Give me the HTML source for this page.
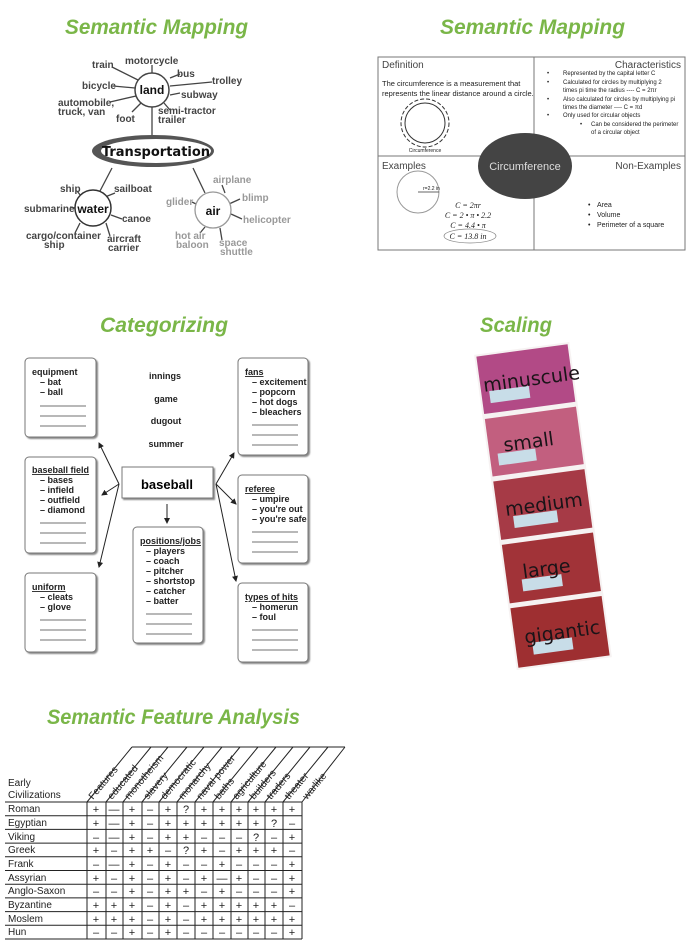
<!DOCTYPE html>
<html><head><meta charset="utf-8"><style>
html,body{margin:0;padding:0;background:#fff;width:695px;height:947px;overflow:hidden}
svg{position:absolute;left:0;top:0}
.t{font-family:"Liberation Sans",sans-serif;font-style:italic;font-weight:bold;fill:#7ab648;font-size:21px}
.g{font-family:"Liberation Sans",sans-serif;font-weight:bold;font-size:10px;fill:#444}
.c{font-family:"Liberation Sans",sans-serif;font-weight:bold;font-size:9px;fill:#222}
.s{font-family:"Liberation Sans",sans-serif;font-size:7px;fill:#222}
.h{font-family:"Liberation Sans",sans-serif;font-size:10px;fill:#222}
</style></head><body>
<svg width="695" height="947" viewBox="0 0 695 947">
<text class="t" x="65" y="34" textLength="183" lengthAdjust="spacingAndGlyphs">Semantic Mapping</text>
<text class="t" x="440" y="34" textLength="185" lengthAdjust="spacingAndGlyphs">Semantic Mapping</text>
<text class="t" x="100" y="332" textLength="128" lengthAdjust="spacingAndGlyphs">Categorizing</text>
<text class="t" x="480" y="332" textLength="72" lengthAdjust="spacingAndGlyphs">Scaling</text>
<text class="t" x="47" y="724" textLength="253" lengthAdjust="spacingAndGlyphs">Semantic Feature Analysis</text>

<!-- transportation -->
<g stroke="#444" stroke-width="1.3" fill="none">
<line x1="152" y1="107" x2="152" y2="136"/>
<line x1="112" y1="168" x2="100" y2="191"/>
<line x1="193" y1="168" x2="205" y2="193"/>
<line x1="112" y1="67" x2="138" y2="80"/><line x1="152" y1="65" x2="152" y2="73"/>
<line x1="170" y1="78" x2="180" y2="74"/><line x1="170" y1="86" x2="212" y2="82"/>
<line x1="113" y1="86" x2="135" y2="88"/><line x1="170" y1="95" x2="180" y2="93"/>
<line x1="110" y1="102" x2="136" y2="96"/><line x1="132" y1="112" x2="141" y2="103"/>
<line x1="164" y1="103" x2="170" y2="110"/>
<line x1="77" y1="191" x2="81" y2="196"/><line x1="105" y1="197" x2="115" y2="193"/>
<line x1="70" y1="207" x2="75" y2="208"/><line x1="111" y1="215" x2="122" y2="219"/>
<line x1="80" y1="223" x2="75" y2="233"/><line x1="106" y1="223" x2="110" y2="236"/>
<line x1="225" y1="193" x2="222" y2="185"/><line x1="192" y1="202" x2="196" y2="204"/>
<line x1="229" y1="204" x2="240" y2="199"/><line x1="231" y1="214" x2="242" y2="219"/>
<line x1="205" y1="227" x2="200" y2="233"/><line x1="220" y1="228" x2="222" y2="240"/>
</g>
<circle cx="152" cy="90" r="17" fill="#fff" stroke="#444" stroke-width="1.5"/>
<ellipse cx="153" cy="151" rx="61" ry="16" fill="#555"/>
<ellipse cx="156" cy="151" rx="55" ry="12" fill="#fff"/>
<circle cx="93" cy="208" r="18" fill="#fff" stroke="#333" stroke-width="1.5"/>
<circle cx="213" cy="210" r="18" fill="#fff" stroke="#999" stroke-width="1.3"/>
<text x="152" y="94" class="g" text-anchor="middle" style="font-size:12px;fill:#111">land</text>
<text x="156" y="156" text-anchor="middle" style="font-family:'DejaVu Sans',sans-serif;font-size:13px;font-weight:bold;fill:#111">Transportation</text>
<text x="93" y="213" class="g" text-anchor="middle" style="font-size:12px;fill:#111">water</text>
<text x="213" y="215" class="g" text-anchor="middle" style="font-size:12px;fill:#111">air</text>
<g class="g">
<text x="92" y="68">train</text><text x="125" y="64">motorcycle</text><text x="177" y="77">bus</text>
<text x="212" y="84">trolley</text><text x="82" y="89">bicycle</text><text x="181" y="98">subway</text>
<text x="58" y="106">automobile,</text><text x="58" y="115">truck, van</text><text x="116" y="122">foot</text>
<text x="158" y="114">semi-tractor</text><text x="158" y="123">trailer</text>
<text x="60" y="192">ship</text><text x="114" y="192">sailboat</text><text x="24" y="212">submarine</text>
<text x="122" y="222">canoe</text><text x="26" y="239">cargo/container</text><text x="44" y="248">ship</text>
<text x="107" y="242">aircraft</text><text x="108" y="251">carrier</text>
</g>
<g class="g" style="fill:#999">
<text x="213" y="183">airplane</text><text x="166" y="205">glider</text><text x="242" y="201">blimp</text>
<text x="243" y="223">helicopter</text><text x="175" y="239">hot air</text><text x="176" y="248">baloon</text>
<text x="219" y="246">space</text><text x="220" y="255">shuttle</text>
</g>

<!-- circumference -->
<rect x="378" y="57" width="307" height="193" fill="#fff" stroke="#777" stroke-width="1"/>
<line x1="534" y1="57" x2="534" y2="250" stroke="#777"/>
<line x1="378" y1="156" x2="685" y2="156" stroke="#777"/>
<text x="382" y="68" class="h" style="fill:#444">Definition</text>
<text x="681" y="68" class="h" text-anchor="end" style="fill:#444">Characteristics</text>
<text x="382" y="169" class="h" style="fill:#444">Examples</text>
<text x="681" y="169" class="h" text-anchor="end" style="fill:#444">Non-Examples</text>
<text x="382" y="86" class="s" style="font-size:7.5px">The circumference is a measurement that</text>
<text x="382" y="96" class="s" style="font-size:7.5px">represents the linear distance around a circle.</text>
<circle cx="425" cy="123" r="20" fill="none" stroke="#333"/>
<circle cx="425" cy="123" r="24" fill="none" stroke="#333" stroke-dasharray="4 2"/>
<text x="425" y="152" class="s" style="font-size:5px" text-anchor="middle">Circumference</text>
<g class="s" style="font-size:6px">
<text x="547" y="75">•</text><text x="563" y="75">Represented by the capital letter C</text>
<text x="547" y="84">•</text><text x="563" y="84">Calculated for circles by multiplying 2</text>
<text x="563" y="92">times pi time the radius ---- C = 2πr</text>
<text x="547" y="101">•</text><text x="563" y="101">Also calculated for circles by multiplying pi</text>
<text x="563" y="109">times the diameter ---- C = πd</text>
<text x="547" y="117">•</text><text x="563" y="117">Only used for circular objects</text>
<text x="580" y="126">•</text><text x="591" y="126">Can be considered the perimeter</text>
<text x="591" y="134">of a circular object</text>
</g>
<circle cx="418" cy="192" r="21" fill="none" stroke="#999"/>
<line x1="418" y1="192" x2="439" y2="192" stroke="#333" stroke-width=".7"/>
<text x="423" y="190" class="s" style="font-size:5px">r=2.2 in</text>
<g class="s" style="font-family:'Liberation Serif',serif;font-style:italic;font-size:8px" text-anchor="middle">
<text x="468" y="208">C = 2πr</text><text x="468" y="218">C = 2 • π • 2.2</text>
<text x="468" y="228">C = 4.4 • π</text><text x="468" y="239">C = 13.8 in</text></g>
<ellipse cx="470" cy="236" rx="26" ry="7" fill="none" stroke="#888" stroke-width=".7"/>
<ellipse cx="525" cy="166" rx="47" ry="33" fill="#444"/>
<text x="525" y="170" text-anchor="middle" class="h" style="fill:#ddd;font-size:11px">Circumference</text>
<g class="s" style="font-size:7px"><text x="588" y="207">•</text><text x="597" y="207">Area</text>
<text x="588" y="217">•</text><text x="597" y="217">Volume</text>
<text x="588" y="227">•</text><text x="597" y="227">Perimeter of a square</text></g>

<!-- categorizing -->
<defs><filter id="sh"><feDropShadow dx="1.5" dy="1.5" stdDeviation="0.8" flood-color="#888"/></filter>
<marker id="ar" markerWidth="6" markerHeight="6" refX="5" refY="3" orient="auto"><path d="M0,0 L6,3 L0,6 z" fill="#222"/></marker></defs>
<g fill="#fff" stroke="#777" stroke-width="1" filter="url(#sh)">
<rect x="25" y="358" width="71" height="79" rx="4"/><rect x="25" y="457" width="71" height="96" rx="4"/>
<rect x="25" y="573" width="71" height="79" rx="4"/><rect x="238" y="358" width="70" height="97" rx="4"/>
<rect x="238" y="475" width="70" height="88" rx="4"/><rect x="238" y="583" width="70" height="79" rx="4"/>
<rect x="133" y="527" width="70" height="116" rx="4"/><rect x="122" y="467" width="91" height="31" rx="0"/>
</g>
<g stroke="#222" stroke-width="1" marker-end="url(#ar)">
<line x1="119" y1="484" x2="99" y2="443"/><line x1="119" y1="484" x2="102" y2="495"/><line x1="119" y1="484" x2="99" y2="567"/>
<line x1="216" y1="484" x2="234" y2="453"/><line x1="216" y1="484" x2="236" y2="504"/><line x1="216" y1="484" x2="236" y2="581"/>
<line x1="167" y1="504" x2="167" y2="523"/></g>
<text x="167" y="489" text-anchor="middle" style="font-family:'Liberation Sans',sans-serif;font-weight:bold;font-size:13px">baseball</text>
<g class="c" text-anchor="middle"><text x="165" y="379">innings</text><text x="166" y="402">game</text><text x="166" y="424">dugout</text><text x="166" y="447">summer</text></g>
<g class="c">
<text x="32" y="375">equipment</text><text x="40" y="385">– bat</text><text x="40" y="395">– ball</text>
<text x="32" y="473" text-decoration="underline">baseball field</text><text x="40" y="483">– bases</text><text x="40" y="493">– infield</text><text x="40" y="503">– outfield</text><text x="40" y="513">– diamond</text>
<text x="32" y="590" text-decoration="underline">uniform</text><text x="40" y="600">– cleats</text><text x="40" y="610">– glove</text>
<text x="245" y="375" text-decoration="underline">fans</text><text x="252" y="385">– excitement</text><text x="252" y="395">– popcorn</text><text x="252" y="405">– hot dogs</text><text x="252" y="415">– bleachers</text>
<text x="245" y="492" text-decoration="underline">referee</text><text x="252" y="502">– umpire</text><text x="252" y="512">– you're out</text><text x="252" y="522">– you're safe</text>
<text x="245" y="600" text-decoration="underline">types of  hits</text><text x="252" y="610">– homerun</text><text x="252" y="620">– foul</text>
<text x="140" y="544" text-decoration="underline">positions/jobs</text><text x="146" y="554">– players</text><text x="146" y="564">– coach</text><text x="146" y="574">– pitcher</text><text x="146" y="584">– shortstop</text><text x="146" y="594">– catcher</text><text x="146" y="604">– batter</text>
</g>
<g stroke="#444" stroke-width=".8">
<path d="M40 406h46M40 416h46M40 426h46M40 523h46M40 533h46M40 543h46M40 620h46M40 630h46M40 640h46M252 425h46M252 435h46M252 445h46M252 532h46M252 542h46M252 552h46M252 630h46M252 640h46M252 650h46M146 614h46M146 624h46M146 634h46"/></g>

<!-- scaling strip -->
<g transform="rotate(-7.7 543 506)">
<rect x="495" y="347" width="96" height="318" fill="#f6f2f2"/>
<rect x="497" y="349" width="92" height="58" fill="#b24a86"/>
<rect x="497" y="412" width="92" height="58" fill="#c25f7f"/>
<rect x="497" y="475" width="92" height="59" fill="#a63a46"/>
<rect x="497" y="539" width="92" height="59" fill="#a13338"/>
<rect x="497" y="603" width="92" height="60" fill="#9e2f31"/>
<g fill="#c8dde8"><rect x="505" y="385" width="40" height="12"/><rect x="505" y="448" width="38" height="12"/><rect x="512" y="512" width="44" height="12"/><rect x="512" y="576" width="40" height="12"/><rect x="514" y="640" width="40" height="12"/></g>
<g style="font-family:'DejaVu Sans',sans-serif;font-size:19px;fill:#1a1418">
<text x="500" y="385">minuscule</text><text x="512" y="447">small</text><text x="505" y="511">medium</text><text x="514" y="575">large</text><text x="507" y="640">gigantic</text></g>
</g>

<!-- feature table -->
<g stroke="#222" stroke-width="1" fill="none">
<path d="M5 802H302M5 815.7H302M5 829.4H302M5 843.1H302M5 856.8H302M5 870.5H302M5 884.2H302M5 897.9H302M5 911.6H302M5 925.3H302M5 939H302"/>
<path d="M87 802V939M106 802V939M123 802V939M142 802V939M159 802V939M177 802V939M195 802V939M213 802V939M231 802V939M248 802V939M265 802V939M283 802V939M302 802V939"/>
<path d="M87 802L132 747M106 802L151 747M123 802L168 747M142 802L187 747M159 802L204 747M177 802L222 747M195 802L240 747M213 802L258 747M231 802L276 747M248 802L293 747M265 802L310 747M283 802L328 747M302 802L345 747M132 747H345"/>
</g>
<g class="h" style="font-size:10px">
<text transform="translate(93 800) rotate(-50)">Features</text>
<text transform="translate(112 800) rotate(-50)">educated</text>
<text transform="translate(129 800) rotate(-50)">monotheism</text>
<text transform="translate(148 800) rotate(-50)">slavery</text>
<text transform="translate(165 800) rotate(-50)">democratic</text>
<text transform="translate(183 800) rotate(-50)">monarchy</text>
<text transform="translate(201 800) rotate(-50)">naval power</text>
<text transform="translate(219 800) rotate(-50)">baths</text>
<text transform="translate(237 800) rotate(-50)">agriculture</text>
<text transform="translate(254 800) rotate(-50)">builders</text>
<text transform="translate(271 800) rotate(-50)">traders</text>
<text transform="translate(289 800) rotate(-50)">theater</text>
<text transform="translate(307 800) rotate(-50)">warlike</text>
<text x="8" y="786">Early</text><text x="8" y="798">Civilizations</text>
<text x="8" y="812">Roman</text><text x="8" y="826">Egyptian</text><text x="8" y="840">Viking</text><text x="8" y="853">Greek</text><text x="8" y="867">Frank</text><text x="8" y="881">Assyrian</text><text x="8" y="894">Anglo-Saxon</text><text x="8" y="908">Byzantine</text><text x="8" y="922">Moslem</text><text x="8" y="935">Hun</text>
</g>
<g class="h" text-anchor="middle" style="font-size:11px">
<text y="813"><tspan x="96">+</tspan><tspan x="114">—</tspan><tspan x="132">+</tspan><tspan x="150">–</tspan><tspan x="168">+</tspan><tspan x="186">?</tspan><tspan x="204">+</tspan><tspan x="222">+</tspan><tspan x="239">+</tspan><tspan x="256">+</tspan><tspan x="274">+</tspan><tspan x="292">+</tspan></text>
<text y="827"><tspan x="96">+</tspan><tspan x="114">—</tspan><tspan x="132">+</tspan><tspan x="150">–</tspan><tspan x="168">+</tspan><tspan x="186">+</tspan><tspan x="204">+</tspan><tspan x="222">+</tspan><tspan x="239">+</tspan><tspan x="256">+</tspan><tspan x="274">?</tspan><tspan x="292">–</tspan></text>
<text y="841"><tspan x="96">–</tspan><tspan x="114">—</tspan><tspan x="132">+</tspan><tspan x="150">–</tspan><tspan x="168">+</tspan><tspan x="186">+</tspan><tspan x="204">–</tspan><tspan x="222">–</tspan><tspan x="239">–</tspan><tspan x="256">?</tspan><tspan x="274">–</tspan><tspan x="292">+</tspan></text>
<text y="854"><tspan x="96">+</tspan><tspan x="114">–</tspan><tspan x="132">+</tspan><tspan x="150">+</tspan><tspan x="168">–</tspan><tspan x="186">?</tspan><tspan x="204">+</tspan><tspan x="222">–</tspan><tspan x="239">+</tspan><tspan x="256">+</tspan><tspan x="274">+</tspan><tspan x="292">–</tspan></text>
<text y="868"><tspan x="96">–</tspan><tspan x="114">—</tspan><tspan x="132">+</tspan><tspan x="150">–</tspan><tspan x="168">+</tspan><tspan x="186">–</tspan><tspan x="204">–</tspan><tspan x="222">+</tspan><tspan x="239">–</tspan><tspan x="256">–</tspan><tspan x="274">–</tspan><tspan x="292">+</tspan></text>
<text y="882"><tspan x="96">+</tspan><tspan x="114">–</tspan><tspan x="132">+</tspan><tspan x="150">–</tspan><tspan x="168">+</tspan><tspan x="186">–</tspan><tspan x="204">+</tspan><tspan x="222">—</tspan><tspan x="239">+</tspan><tspan x="256">–</tspan><tspan x="274">–</tspan><tspan x="292">+</tspan></text>
<text y="895"><tspan x="96">–</tspan><tspan x="114">–</tspan><tspan x="132">+</tspan><tspan x="150">–</tspan><tspan x="168">+</tspan><tspan x="186">+</tspan><tspan x="204">–</tspan><tspan x="222">+</tspan><tspan x="239">–</tspan><tspan x="256">–</tspan><tspan x="274">–</tspan><tspan x="292">+</tspan></text>
<text y="909"><tspan x="96">+</tspan><tspan x="114">+</tspan><tspan x="132">+</tspan><tspan x="150">–</tspan><tspan x="168">+</tspan><tspan x="186">–</tspan><tspan x="204">+</tspan><tspan x="222">+</tspan><tspan x="239">+</tspan><tspan x="256">+</tspan><tspan x="274">+</tspan><tspan x="292">–</tspan></text>
<text y="923"><tspan x="96">+</tspan><tspan x="114">+</tspan><tspan x="132">+</tspan><tspan x="150">–</tspan><tspan x="168">+</tspan><tspan x="186">–</tspan><tspan x="204">+</tspan><tspan x="222">+</tspan><tspan x="239">+</tspan><tspan x="256">+</tspan><tspan x="274">+</tspan><tspan x="292">+</tspan></text>
<text y="936"><tspan x="96">–</tspan><tspan x="114">–</tspan><tspan x="132">+</tspan><tspan x="150">–</tspan><tspan x="168">+</tspan><tspan x="186">–</tspan><tspan x="204">–</tspan><tspan x="222">–</tspan><tspan x="239">–</tspan><tspan x="256">–</tspan><tspan x="274">–</tspan><tspan x="292">+</tspan></text>
</g>
</svg>
</body></html>
